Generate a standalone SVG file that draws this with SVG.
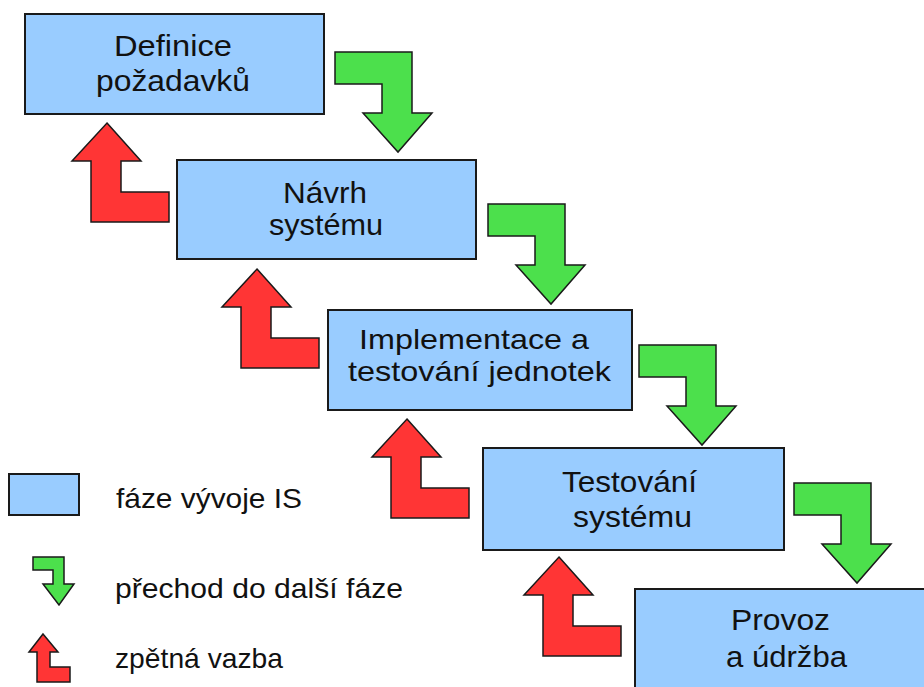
<svg xmlns="http://www.w3.org/2000/svg" xmlns:xlink="http://www.w3.org/1999/xlink" width="924" height="687" viewBox="0 0 924 687">
  <style>
    .phase { fill: #99ccff; stroke: #1a1a1a; stroke-width: 2; }
    .label { font-family: "Liberation Sans", Arial, sans-serif; font-size: 30px; fill: #111; }
    .tight { font-size: 28px; }
    .legend { font-family: "Liberation Sans", Arial, sans-serif; font-size: 28px; fill: #111; }
    .next { fill: #4ce04c; stroke: #1a1a1a; stroke-width: 1.5; stroke-linejoin: miter; }
    .back { fill: #ff3535; stroke: #1a1a1a; stroke-width: 1.5; stroke-linejoin: miter; }
  </style>
  <defs>
    <!-- bent arrow pointing down, origin at top-left of the horizontal arm -->
    <path id="arrow-down" d="M0,0 H77 V61 H97 L63,100 L28,61 H47 V32 H0 Z"/>
    <!-- bent arrow pointing up, origin at the tip -->
    <path id="arrow-up" d="M0,0 L34,38 H14 V69 H62 V99 H-16 V38 H-35 Z"/>
  </defs>

  <rect width="924" height="687" fill="#ffffff"/>

  <g id="connectors">
    <use xlink:href="#arrow-down" class="next" transform="translate(335,52)"/>
    <use xlink:href="#arrow-down" class="next" transform="translate(488,204)"/>
    <use xlink:href="#arrow-down" class="next" transform="translate(639,345)"/>
    <use xlink:href="#arrow-down" class="next" transform="translate(794,483)"/>
    <use xlink:href="#arrow-up" class="back" transform="translate(107,123)"/>
    <use xlink:href="#arrow-up" class="back" transform="translate(257,269)"/>
    <use xlink:href="#arrow-up" class="back" transform="translate(407,419)"/>
    <use xlink:href="#arrow-up" class="back" transform="translate(559,557)"/>
  </g>

  <g id="definice-pozadavku">
    <rect class="phase" x="25" y="14" width="299" height="100"/>
    <text class="label" x="114" y="56" textLength="118" lengthAdjust="spacingAndGlyphs">Definice</text>
    <text class="label" x="96" y="91" textLength="154" lengthAdjust="spacingAndGlyphs">požadavků</text>
  </g>

  <g id="navrh-systemu">
    <rect class="phase" x="177" y="160" width="299" height="99"/>
    <text class="label" x="283" y="203" textLength="84" lengthAdjust="spacingAndGlyphs">Návrh</text>
    <text class="label" x="269" y="235" textLength="114" lengthAdjust="spacingAndGlyphs">systému</text>
  </g>

  <g id="implementace">
    <rect class="phase" x="328" y="310" width="304" height="100"/>
    <text class="label tight" x="359" y="349" textLength="230" lengthAdjust="spacingAndGlyphs">Implementace a</text>
    <text class="label tight" x="348" y="381" textLength="263" lengthAdjust="spacingAndGlyphs">testování jednotek</text>
  </g>

  <g id="testovani-systemu">
    <rect class="phase" x="483" y="448" width="301" height="102"/>
    <text class="label" x="562" y="492" textLength="135" lengthAdjust="spacingAndGlyphs">Testování</text>
    <text class="label" x="573" y="527" textLength="119" lengthAdjust="spacingAndGlyphs">systému</text>
  </g>

  <g id="provoz-udrzba">
    <rect class="phase" x="635" y="589" width="300" height="100"/>
    <text class="label" x="731" y="630" textLength="99" lengthAdjust="spacingAndGlyphs">Provoz</text>
    <text class="label" x="726" y="667" textLength="121" lengthAdjust="spacingAndGlyphs">a údržba</text>
  </g>

  <g id="legend">
    <rect class="phase" x="9" y="474" width="70" height="41"/>
    <text class="legend" x="116" y="508" textLength="186" lengthAdjust="spacingAndGlyphs">fáze vývoje IS</text>
    <path class="next" d="M33,557 H64 V584 H74 L59,605 L43,584 H53 V570 H33 Z"/>
    <text class="legend" x="115" y="598" textLength="288" lengthAdjust="spacingAndGlyphs">přechod do další fáze</text>
    <path class="back" d="M43,634 L58,652 H50 V667 H70 V682 H37 V652 H29 Z"/>
    <text class="legend" x="115" y="668" textLength="168" lengthAdjust="spacingAndGlyphs">zpětná vazba</text>
  </g>
</svg>
